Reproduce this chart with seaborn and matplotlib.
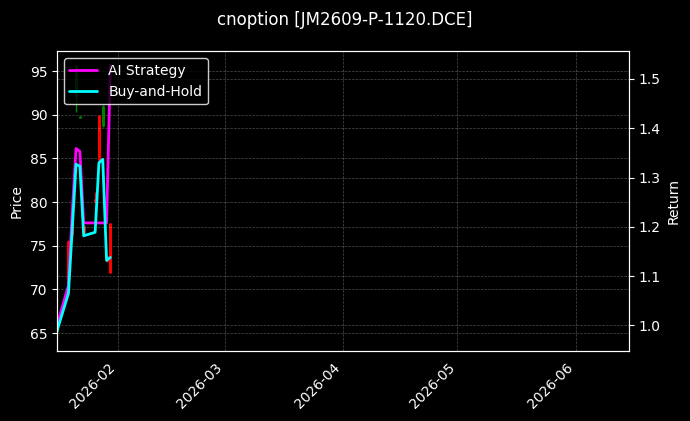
import matplotlib
matplotlib.use("Agg")
import matplotlib.pyplot as plt
import matplotlib.dates as mdates
import pandas as pd
import seaborn as sns

# trading days shown
dates = ["2026-01-16", "2026-01-19", "2026-01-20", "2026-01-21", "2026-01-22", "2026-01-23",
         "2026-01-26", "2026-01-27", "2026-01-28", "2026-01-29", "2026-01-30"]
# candles (price axis)
opens = [66.0, 70.0, 76.2, 95.7, 89.9, 76.5, 80.0, 84.8, 91.0, 73.3, 71.9]
highs = [66.3, 75.7, 78.0, 95.7, 89.9, 77.4, 81.2, 90.0, 91.1, 73.9, 77.6]
lows = [64.5, 69.8, 76.0, 90.3, 89.6, 76.4, 79.9, 84.5, 88.6, 73.2, 71.9]
closes = [65.2, 75.5, 77.8, 92.0, 89.6, 77.3, 80.3, 90.0, 88.7, 73.8, 77.6]
# cumulative returns (return axis)
ai_strategy = [1.000, 1.081, 1.230, 1.359, 1.353, 1.208, 1.208, 1.208, 1.208, 1.208, 1.528]
buy_hold = [0.989, 1.065, 1.196, 1.327, 1.323, 1.182, 1.189, 1.330, 1.337, 1.132, 1.138]

title = "cnoption [JM2609-P-1120.DCE]"

sns.set_theme(style="dark")
plt.style.use("dark_background")
plt.rcParams["font.family"] = ["DejaVu Sans"]
plt.rcParams.update({"font.size": 10, "axes.labelsize": 10, "xtick.labelsize": 10,
                     "ytick.labelsize": 10, "legend.fontsize": 10,
                     "axes.linewidth": 0.8, "xtick.major.size": 3.5, "ytick.major.size": 3.5,
                     "xtick.major.width": 0.8, "ytick.major.width": 0.8})

df = pd.DataFrame({"date": pd.to_datetime(dates), "open": opens, "high": highs,
                   "low": lows, "close": closes,
                   "AI Strategy": ai_strategy, "Buy-and-Hold": buy_hold})
long_df = df.melt(id_vars="date", value_vars=["AI Strategy", "Buy-and-Hold"],
                  var_name="series", value_name="ret")

fig, ax = plt.subplots(figsize=(6.9, 4.21), dpi=100)
fig.subplots_adjust(left=0.0826, right=0.9116, top=0.878, bottom=0.166)

up = df["close"] >= df["open"]
cols = ["red" if u else "green" for u in up]
ax.vlines(df["date"], df["low"], df["high"], colors=cols, linewidth=1)
ax.vlines(df["date"], df[["open", "close"]].min(axis=1), df[["open", "close"]].max(axis=1),
          colors=cols, linewidth=2.2)
ax.set_ylabel("Price")
ax.set_ylim(62.94, 97.26)
ax.grid(True, linestyle="--", linewidth=0.5, alpha=0.3)

ax2 = ax.twinx()
sns.lineplot(data=long_df, x="date", y="ret", hue="series", ax=ax2,
             palette={"AI Strategy": "#ff00ff", "Buy-and-Hold": "#00ffff"}, linewidth=2)
ax2.set_ylabel("Return")
ax2.set_xlabel("")
ax2.set_ylim(0.948, 1.556)
ax2.grid(True, linestyle="--", linewidth=0.5, alpha=0.3)
ax2.legend(loc="upper left", facecolor="black", edgecolor="white", framealpha=0.8)

ax.set_xlim(pd.Timestamp("2026-01-16"), pd.Timestamp("2026-06-15"))
ax.xaxis.set_major_locator(mdates.MonthLocator())
ax.xaxis.set_major_formatter(mdates.DateFormatter("%Y-%m"))
for lbl in ax.get_xticklabels():
    lbl.set_rotation(45)
    lbl.set_ha("right")
ax.set_xlabel("")

fig.suptitle(title, fontsize=12, y=0.975)
fig.savefig("out.png", dpi=100, facecolor="black")
